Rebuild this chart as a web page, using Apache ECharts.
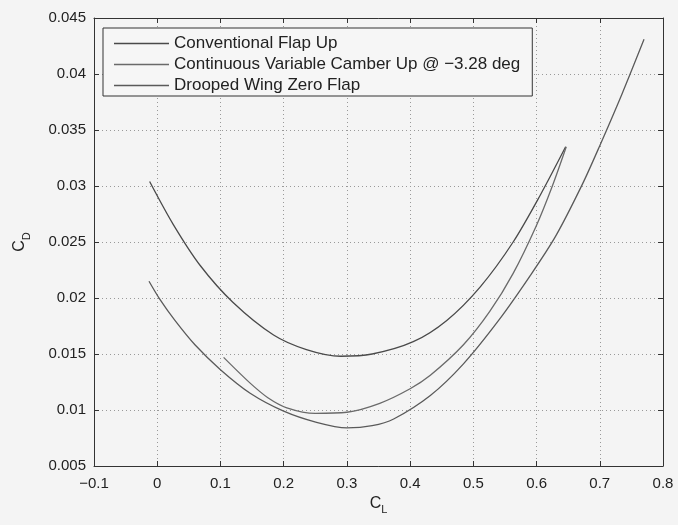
<!DOCTYPE html>
<html><head><meta charset="utf-8">
<script src="https://cdn.jsdelivr.net/npm/echarts/dist/echarts.min.js"></script>
<style>html,body{margin:0;padding:0;background:#f4f4f4}#c{width:678px;height:525px}</style>
</head><body><div id="c"></div>
<script>
const seriesNames = ['Conventional Flap Up', 'Continuous Variable Camber Up @ \u22123.28 deg', 'Drooped Wing Zero Flap'];
const conventionalFlapUp = [
  [-0.012,0.0304],[0.025,0.0266],[0.068,0.0229],[0.12,0.0196],[0.184,0.0167],[0.236,0.0154],
  [0.29,0.0148],[0.34,0.0150],[0.405,0.0161],[0.458,0.0180],[0.511,0.0210],[0.563,0.0250],
  [0.606,0.0292],[0.646,0.0335]
];
const continuousVariableCamber = [
  [0.105,0.0147],[0.147,0.0124],[0.175,0.0111],[0.205,0.0102],[0.25,0.0097],[0.3,0.0098],
  [0.352,0.0106],[0.4,0.0119],[0.432,0.0131],[0.484,0.0158],[0.526,0.0188],[0.563,0.0222],
  [0.600,0.0265],[0.625,0.0300],[0.647,0.0335]
];
const droopedWingZeroFlap = [
  [-0.013,0.0215],[0.004,0.0199],[0.028,0.0180],[0.06,0.0158],[0.1,0.0136],[0.147,0.0115],
  [0.2,0.0099],[0.252,0.0089],[0.3,0.0084],[0.34,0.0086],[0.374,0.0092],[0.432,0.0113],
  [0.484,0.0141],[0.54,0.0180],[0.59,0.0220],[0.63,0.0255],[0.672,0.0301],[0.70,0.0336],
  [0.735,0.0382],[0.77,0.0431]
];
const xMin = -0.1, xMax = 0.8, xStep = 0.1;
const yMin = 0.005, yMax = 0.045, yStep = 0.005;

const chart = echarts.init(document.getElementById('c'), null, {renderer:'canvas'});
const font = 'Liberation Sans, Arial, sans-serif';
const fmtX = v => { const r = Math.round(v*10)/10; return (r < 0 ? '\u2212' + Math.abs(r) : String(r)); };
const fmtY = v => String(parseFloat(v.toFixed(3)));
const tick = {show:true, inside:true, length:5, lineStyle:{color:'#333'}};
const axLine = {show:true, onZero:false, lineStyle:{color:'#333', width:1}};
const grid = {show:true, lineStyle:{type:[1,3], color:'#999', width:1}};
function mkSeries(name, data, color){
  return {name, type:'line', data, smooth:0.3, symbol:'none', showSymbol:false,
    xAxisIndex:0, yAxisIndex:0, lineStyle:{color, width:1.3}, itemStyle:{color}, animation:false};
}
const richName = {a:{fontSize:16, color:'#222', fontFamily:font, lineHeight:24, verticalAlign:'middle'},
                  b:{fontSize:11, color:'#222', fontFamily:font, lineHeight:24, verticalAlign:'bottom'}};
chart.setOption({
  backgroundColor:'#f4f4f4',
  animation:false,
  grid:{left:94, right:15, top:18, bottom:59, containLabel:false},
  legend:{
    orient:'vertical', left:103, top:28, backgroundColor:'#f6f6f6', borderColor:'#333', borderWidth:1,
    padding:[7,12,2,11], itemGap:4, itemWidth:55, itemHeight:1.4, icon:'rect',
    textStyle:{fontSize:17, color:'#222', fontFamily:font, lineHeight:17},
    data:seriesNames
  },
  xAxis:[
    {type:'value', min:xMin, max:xMax, interval:xStep, position:'bottom',
     axisLine:axLine, axisTick:tick, splitLine:grid,
     axisLabel:{formatter:fmtX, fontSize:15, color:'#222', fontFamily:font, margin:10},
     name:'{a|C}{b|L}', nameLocation:'middle', nameGap:23, nameTextStyle:{rich:richName}},
    {type:'value', min:xMin, max:xMax, interval:xStep, position:'top',
     axisLine:axLine, axisTick:tick, splitLine:{show:false}, axisLabel:{show:false}}
  ],
  yAxis:[
    {type:'value', min:yMin, max:yMax, interval:yStep, position:'left',
     axisLine:axLine, axisTick:tick, splitLine:grid,
     axisLabel:{formatter:fmtY, fontSize:15, color:'#222', fontFamily:font, margin:8},
     name:'{a|C}{b|D}', nameLocation:'middle', nameGap:62, nameRotate:90, nameTextStyle:{rich:richName}},
    {type:'value', min:yMin, max:yMax, interval:yStep, position:'right',
     axisLine:axLine, axisTick:tick, splitLine:{show:false}, axisLabel:{show:false}}
  ],
  series:[
    mkSeries(seriesNames[0], conventionalFlapUp, '#4a4a4a'),
    mkSeries(seriesNames[1], continuousVariableCamber, '#6a6a6a'),
    mkSeries(seriesNames[2], droopedWingZeroFlap, '#5a5a5a')
  ]
});
</script></body></html>
